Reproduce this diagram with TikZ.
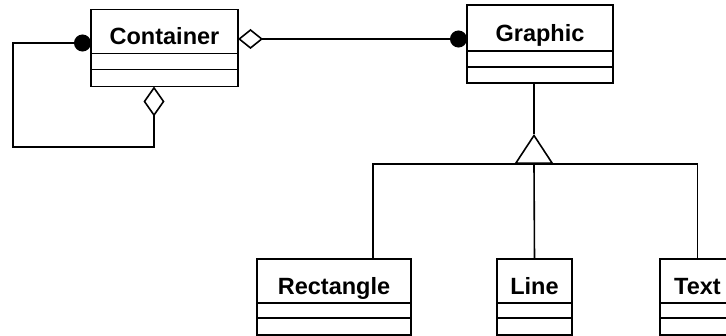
\documentclass[tikz,border=0pt]{standalone}
\usepackage{fontspec}
\setmainfont{Liberation Sans}
\usetikzlibrary{positioning,calc,arrows.meta}

\begin{document}
\begin{tikzpicture}[
			x=1pt, y=-1pt, line width=1.6pt,
			classname/.style={draw, inner sep=0pt, outer sep=0pt, minimum height=44pt, text height=26.5pt, text depth=0pt, font=\bfseries\fontsize{23.5}{27}\selectfont},
			classpart/.style={draw, inner sep=0pt, outer sep=0pt, minimum height=16pt},
			bigagg/.tip={Diamond[open, length=30pt, width=21pt]},
			smallagg/.tip={Diamond[open, length=25pt, width=20pt]},
			dottip/.tip={Circle[length=17pt]}
		]
		\useasboundingbox (0, 0) rectangle (726, 336);

		% 四个类框
		\node[classname, minimum width=147pt] (container) at (164.5, 31.5) {Container};
		\node[classpart, minimum width=147pt, below=0pt of container] (container-a) {};
		\node[classpart, minimum width=147pt, minimum height=17pt, below=0pt of container-a] (container-b) {};

		\node[classname, minimum width=146pt, minimum height=46pt] (graphic) at (540, 28) {Graphic};
		\node[classpart, minimum width=146pt, below=0pt of graphic] (graphic-a) {};
		\node[classpart, minimum width=146pt, below=0pt of graphic-a] (graphic-b) {};

		\node[classname, minimum width=154pt] (rectangle) at (334, 281) {Rectangle};
		\node[classpart, minimum width=154pt, minimum height=15pt, below=0pt of rectangle] (rectangle-a) {};
		\node[classpart, minimum width=154pt, minimum height=17pt, below=0pt of rectangle-a] (rectangle-b) {};

		\node[classname, minimum width=75pt] (line) at (534.5, 281) {Line};
		\node[classpart, minimum width=75pt, minimum height=15pt, below=0pt of line] (line-a) {};
		\node[classpart, minimum width=75pt, minimum height=17pt, below=0pt of line-a] (line-b) {};

		\node[classname, minimum width=75pt] (text) at (697.5, 281) {Text};
		\node[classpart, minimum width=75pt, minimum height=15pt, below=0pt of text] (text-a) {};
		\node[classpart, minimum width=75pt, minimum height=17pt, below=0pt of text-a] (text-b) {};

		% 聚合关系
		\coordinate (loopcorner) at (13, 147);
		\draw[dottip-bigagg] ($(container.west)+(0, 11.5)$) -| (loopcorner) -| ($(container-b.south)+(-10.5, 0)$);
		\draw[smallagg-dottip] ($(container.east)+(0, 7.5)$) -- ($(graphic.west)+(0, 11)$);

		% 继承关系
		\coordinate (hub) at (534, 164);
		\draw[-{Triangle[open, length=30pt, width=39pt]}] (hub) -- ++(0, -30) coordinate (apex);
		\draw (apex) -- (graphic-b.south -| hub);
		\draw ($(rectangle.north)+(39, 0)$) |- (hub) -| (text.north);
		\draw (hub) -- (line.north);
	\end{tikzpicture}
\end{document}
